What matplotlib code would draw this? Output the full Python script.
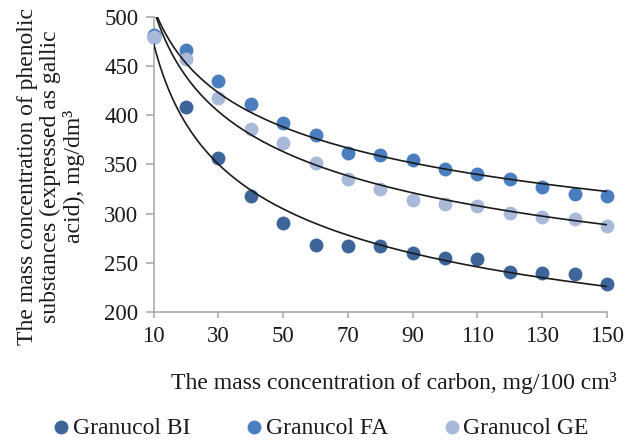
import matplotlib.pyplot as plt
import numpy as np

plt.rcParams['font.family'] = ['Liberation Serif', 'DejaVu Serif']

carbon = [10, 20, 30, 40, 50, 60, 70, 80, 90, 100, 110, 120, 130, 140, 150]
granucol_bi = [480, 409, 357, 318, 290, 268, 267, 267, 260, 255, 254, 241, 239, 238, 228]
granucol_fa = [482, 467, 435, 412, 392, 380, 362, 360, 355, 345, 340, 335, 327, 320, 318]
granucol_ge = [480, 457, 418, 386, 372, 352, 335, 325, 314, 310, 308, 301, 297, 295, 287]

series = [
    ('Granucol BI', granucol_bi, '#3d6599'),
    ('Granucol FA', granucol_fa, '#4a7ebf'),
    ('Granucol GE', granucol_ge, '#a9b9d9'),
]

fs = 17
fig = plt.figure(figsize=(6.25, 4.41), dpi=100)
ax = fig.add_axes([0.246, 0.293, 0.725, 0.668])

x = np.array(carbon, dtype=float)
xs = np.linspace(10, 150, 300)
for name, vals, col in series:
    ax.scatter(x, vals, s=100, color=col, label=name, zorder=3, linewidths=0, clip_on=False)
for name, vals, col in series:
    # power trend line, fitted in log space like the spreadsheet does
    b, lna = np.polyfit(np.log(x), np.log(vals), 1)
    ax.plot(xs, np.exp(lna) * xs ** b, color='#1a1a1a', lw=1.2, zorder=4)

ax.set_xlim(10, 150)
ax.set_ylim(200, 500)
ax.set_xticks(range(10, 151, 20))
ax.set_yticks(range(200, 501, 50))
for s in ['top', 'right']:
    ax.spines[s].set_visible(False)
for s in ['left', 'bottom']:
    ax.spines[s].set_color('#a6a6a6')
    ax.spines[s].set_linewidth(1.1)
ax.tick_params(colors='#a6a6a6', labelcolor='#1a1a1a', labelsize=16.5, width=1.1)
ax.tick_params(axis='y', length=6, pad=5)
ax.tick_params(axis='x', length=4.5, pad=6)

ax.set_xlabel('The mass concentration of carbon, mg/100 cm³', fontsize=fs, color='#1a1a1a')
ax.xaxis.set_label_coords(1.022, -0.205)
ax.xaxis.label.set_horizontalalignment('right')
ax.set_ylabel('The mass concentration of phenolic\nsubstances (expressed as gallic\nacid), mg/dm³',
              fontsize=fs, color='#1a1a1a', linespacing=1.1)
ax.yaxis.set_label_coords(-0.152, 0.46)

fig.legend(loc='center', bbox_to_anchor=(0.514, 0.03), ncol=3, frameon=False,
           fontsize=fs, handlelength=0.6, handletextpad=0.2, columnspacing=2.4,
           borderpad=0, labelcolor='#1a1a1a')

fig.savefig('out.png', dpi=100)
